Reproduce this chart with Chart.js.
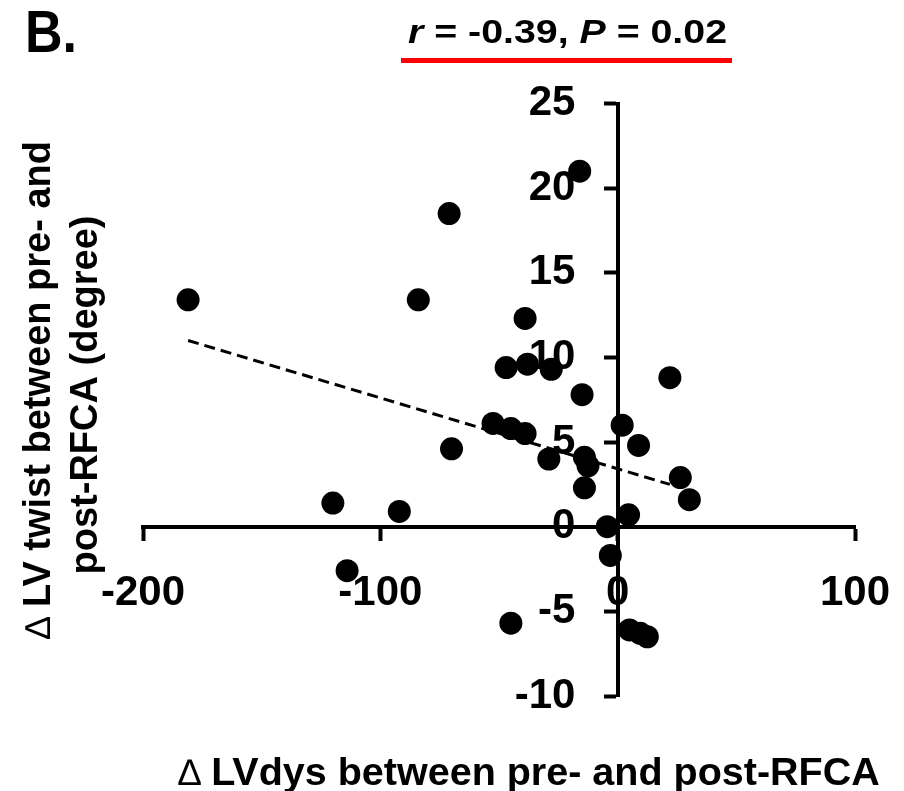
<!DOCTYPE html>
<html>
<head>
<meta charset="utf-8">
<title>LV twist vs LVdys</title>
<script src="https://cdn.jsdelivr.net/npm/chart.js@4.4.1/dist/chart.umd.min.js"></script>
<style>
  html, body { margin: 0; padding: 0; background: #ffffff; overflow: hidden; }
  #wrap { position: relative; width: 904px; height: 791px; }
</style>
</head>
<body>
<div id="wrap"><canvas id="twistChart"></canvas></div>
<script>
// Delta LVdys (x) and delta LV twist (y), one entry per patient
const lvdysChange = [
  -181, -71, -84, -16, -39, -47, -38, -28, -15, -52.5, -45, -39, -70,
  -29, -14, -12.5, -14, -120, -92, -114, -45, -4.4, -3.1, 22, 1.9,
  8.8, 26.4, 30.2, 4.6, 5, 9.5, 12.5,
];
const twistChange = [
  13.4, 18.5, 13.4, 21.0, 12.3, 9.4, 9.6, 9.3, 7.8, 6.1, 5.8, 5.5, 4.6,
  4.0, 4.1, 3.6, 2.3, 1.4, 0.9, -2.6, -5.7, 0.0, -1.7, 8.8, 6.0,
  4.8, 2.9, 1.6, 0.7, -6.1, -6.3, -6.5,
];

// Regression line end points
const fitX = [-181, 22];
const fitY = [11.0, 2.5];

// Tick labels
const xTicks = [-200, -100, 0, 100];
const yTicks = [-10, -5, 0, 5, 10, 15, 20, 25];

const FONT = "'Liberation Sans', Arial, Helvetica, sans-serif";

/**
 * Draw a run of text pieces with their own font, one after the other
 * @param {CanvasRenderingContext2D} ctx - Canvas context
 * @param {Array} parts - [{ text, font }]
 * @param {number} x - Anchor x
 * @param {number} y - Baseline y
 * @param {string} align - "left" or "center"
 * @param {number} fitWidth - Optional width to stretch the run to
 */
function drawRun(ctx, parts, x, y, align = "left", fitWidth = 0) {
  let total = 0;
  parts.forEach((p) => {
    ctx.font = p.font;
    p.w = ctx.measureText(p.text).width;
    total += p.w;
  });
  const sx = fitWidth ? fitWidth / total : 1;
  ctx.save();
  ctx.translate(align === "center" ? x - (total * sx) / 2 : x, y);
  ctx.scale(sx, 1);
  ctx.textAlign = "left";
  ctx.textBaseline = "alphabetic";
  let cx = 0;
  parts.forEach((p) => {
    ctx.font = p.font;
    ctx.fillText(p.text, cx, 0);
    cx += p.w;
  });
  ctx.restore();
}

// Panel letter, stats line and axis titles
const figureText = {
  id: "figureText",
  afterDraw(chart) {
    const ctx = chart.ctx;
    const bold = (s) => `bold ${s}px ${FONT}`;
    const boldIt = (s) => `italic bold ${s}px ${FONT}`;
    const thin = (s) => `${s}px ${FONT}`;

    ctx.save();
    ctx.fillStyle = "#000";

    // "B."
    drawRun(ctx, [{ text: "B.", font: bold(60) }], 25, 52, "left", 52);

    // r and P
    drawRun(
      ctx,
      [
        { text: "r", font: boldIt(33) },
        { text: " = -0.39, ", font: bold(33) },
        { text: "P", font: boldIt(33) },
        { text: " = 0.02", font: bold(33) },
      ],
      408,
      43,
      "left",
      319
    );
    ctx.fillStyle = "#ff0000";
    ctx.fillRect(401, 58, 331, 5);
    ctx.fillStyle = "#000";

    // y title, two lines reading upwards
    ctx.save();
    ctx.translate(50, 390);
    ctx.rotate(-Math.PI / 2);
    drawRun(
      ctx,
      [
        { text: "\u2206 ", font: thin(36) },
        { text: "LV twist between pre- and", font: bold(38) },
      ],
      0,
      0,
      "center"
    );
    ctx.restore();
    ctx.save();
    ctx.translate(97, 395);
    ctx.rotate(-Math.PI / 2);
    drawRun(ctx, [{ text: "post-RFCA (degree)", font: bold(38) }], 0, 0, "center");
    ctx.restore();

    // x title
    drawRun(
      ctx,
      [
        { text: "\u2206 ", font: thin(37) },
        { text: "LVdys between pre- and post-RFCA", font: bold(39.5) },
      ],
      529,
      785,
      "center"
    );
    ctx.restore();
  },
};

// keep tick label overhang from pushing the plot area around
function noPadding(scale) {
  scale.paddingLeft = 0;
  scale.paddingRight = 0;
  scale.paddingTop = 0;
  scale.paddingBottom = 0;
}

function createTwistChart(canvasId) {
  const canvas = document.getElementById(canvasId);
  if (!canvas) return null;

  const ctx = canvas.getContext("2d");

  const points = lvdysChange.map((x, i) => ({ x: x, y: twistChange[i] }));
  const fit = fitX.map((x, i) => ({ x: x, y: fitY[i] }));

  const tickFont = { family: FONT, size: 42, weight: "bold" };
  const axisGrid = {
    drawOnChartArea: false,
    drawTicks: true,
    tickLength: 12,
    tickWidth: 4,
    tickColor: "#000",
  };

  return new Chart(ctx, {
    type: "scatter",
    data: {
      datasets: [
        {
          data: points,
          backgroundColor: "#000",
          borderWidth: 0,
          pointRadius: 11.5,
          pointHoverRadius: 11.5,
          order: 0,
        },
        {
          data: fit,
          showLine: true,
          borderColor: "#000",
          borderWidth: 3,
          borderDash: [11, 6],
          pointRadius: 0,
          order: 1,
        },
      ],
    },
    options: {
      responsive: true,
      maintainAspectRatio: false,
      animation: false,
      layout: {
        autoPadding: false,
        padding: { left: 143, right: 49, top: 103.5, bottom: 95 },
      },
      plugins: {
        legend: { display: false },
        tooltip: { enabled: false },
      },
      scales: {
        x: {
          type: "linear",
          position: { y: 0 },
          min: -200,
          max: 100,
          afterBuildTicks: (axis) => {
            axis.ticks = xTicks.map((v) => ({ value: v }));
          },
          afterFit: noPadding,
          grid: axisGrid,
          border: { display: true, color: "#000", width: 4 },
          ticks: {
            color: "#000",
            font: tickFont,
            padding: 30,
            maxRotation: 0,
            autoSkip: false,
            callback: (v) => String(v),
          },
        },
        // axis line and tick marks at x = 0
        y: {
          type: "linear",
          position: { x: 0 },
          min: -10,
          max: 25,
          afterBuildTicks: (axis) => {
            axis.ticks = yTicks.map((v) => ({ value: v }));
          },
          afterFit: noPadding,
          grid: axisGrid,
          border: { display: true, color: "#000", width: 4 },
          ticks: { display: false },
        },
        // tick labels of the y axis, right-aligned a little left of it
        yLabels: {
          type: "linear",
          axis: "y",
          position: { x: -17.8 },
          min: -10,
          max: 25,
          afterBuildTicks: (axis) => {
            axis.ticks = yTicks.map((v) => ({ value: v }));
          },
          afterFit: noPadding,
          grid: { display: false },
          border: { display: false },
          ticks: {
            color: "#000",
            font: tickFont,
            autoSkip: false,
            callback: (v) => String(v),
          },
        },
      },
    },
    plugins: [figureText],
  });
}

createTwistChart("twistChart");
</script>
</body>
</html>
